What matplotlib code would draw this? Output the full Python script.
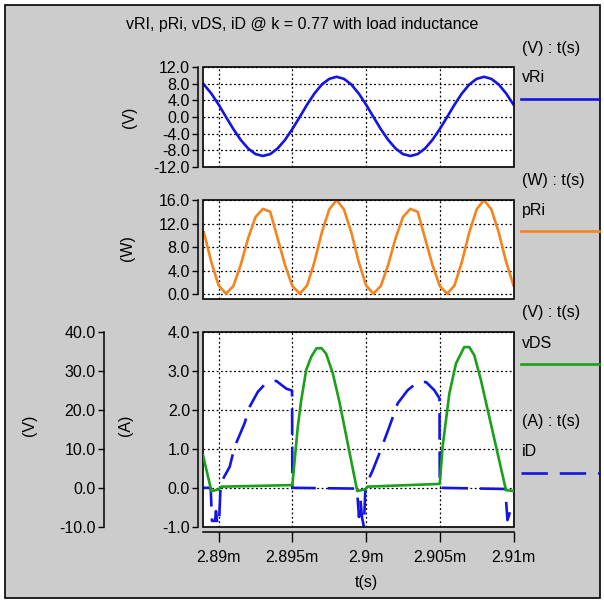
import numpy as np
import matplotlib
matplotlib.use("Agg")
import matplotlib.pyplot as plt
from matplotlib.lines import Line2D
from matplotlib.patches import Rectangle

plt.rcParams['font.family'] = ['Liberation Sans', 'DejaVu Sans']
FS = 11.5

# time in ms (labels get an "m" suffix)
t_lim = (2.88894, 2.910)
x_ticks = [2.89, 2.895, 2.9, 2.905, 2.91]

# vRi and pRi sampled every 0.5 us
t_s = np.linspace(2.889, 2.910, 43)
vri = [7.8, 5.65, 2.97, 0.0, -2.9, -5.5, -7.55, -8.9, -9.35, -8.9, -7.55, -5.5, -2.9,
       0.0, 2.97, 5.65, 7.8, 9.15, 9.65, 9.15, 7.8, 5.65, 2.97,
       0.0, -2.9, -5.5, -7.55, -8.9, -9.35, -8.9, -7.55, -5.5, -2.9,
       0.0, 2.97, 5.65, 7.8, 9.15, 9.65, 9.15, 7.8, 5.65, 2.97]
pri = [10.5, 5.5, 1.5, 0.1, 1.4, 5.0, 9.5, 13.1, 14.5, 14.0, 9.5, 5.0, 1.4,
       0.1, 1.5, 5.5, 10.5, 14.4, 16.0, 14.4, 10.5, 5.5, 1.5,
       0.1, 1.4, 5.0, 9.5, 13.1, 14.5, 14.0, 9.5, 5.0, 1.4,
       0.1, 1.5, 5.5, 10.5, 14.4, 16.0, 14.4, 10.5, 5.5, 1.5]

# vDS (V)
t_vds = [2.88894, 2.88951, 2.89002, 2.89018, 2.89500, 2.89537, 2.89560, 2.89594,
         2.89628, 2.89664, 2.89698, 2.89729, 2.89774, 2.89820, 2.89940,
         2.89996, 2.90009, 2.90500, 2.90519, 2.90565, 2.90610, 2.90666, 2.90700,
         2.90734, 2.90779, 2.90949, 2.91000]
vds = [8.4, -0.85, -0.4, 0.3, 0.7, 15.7, 22.5, 30.3,
       33.7, 35.9, 35.9, 34.5, 29.5, 22.0, -0.8,
       -0.4, 0.3, 1.0, 10.5, 24.3, 32.0, 36.2, 36.2,
       34.1, 27.7, -0.6, -0.8]

# iD (A)
t_id = [2.88894, 2.88939, 2.88946, 2.88955, 2.88976, 2.88982, 2.88991, 2.89002,
        2.89014, 2.89018, 2.89075, 2.89108, 2.89176, 2.89210, 2.89266, 2.89323,
        2.89391, 2.89459, 2.89498, 2.89500,
        2.89938, 2.89952, 2.89962, 2.89972, 2.89985, 2.89996, 2.90000,
        2.90045, 2.90090, 2.90158, 2.90214, 2.90282, 2.90350, 2.90407, 2.90463,
        2.90498, 2.90500, 2.90944, 2.90959, 2.90978, 2.91000]
i_d = [0.0, 0.0, 0.0, -0.85, -0.85, -0.6, -0.92, -0.95,
       0.1, 0.15, 0.54, 1.05, 1.66, 2.08, 2.47, 2.70,
       2.75, 2.55, 2.50, 0.0,
       -0.02, -0.75, -0.3, -0.75, -1.0, 0.05, 0.07,
       0.45, 0.88, 1.57, 2.17, 2.51, 2.72, 2.72, 2.51,
       2.30, 0.0, -0.03, -0.83, -0.6, -0.45]

BLUE = '#1414e6'
ORANGE = '#f5841f'
GREEN = '#1aa01a'
DASH = (0, (10, 4.5))

W, H = 604, 602
fig = plt.figure(figsize=(6.04, 6.02), dpi=100)
fig.patch.set_facecolor('white')


def fx(px):
    return px / W


def fy(py):
    return 1 - py / H


fig.add_artist(Rectangle((fx(5), fy(598)), fx(600) - fx(5), fy(5) - fy(598),
                         transform=fig.transFigure, facecolor='#cccccc',
                         edgecolor='black', lw=1.2, zorder=0))


def add_panel(left, top, right, bottom):
    return fig.add_axes([fx(left), fy(bottom), fx(right) - fx(left), fy(top) - fy(bottom)])


def style(ax, yticks, ylim, show_x=False):
    ax.set_xlim(t_lim)
    ax.set_ylim(ylim)
    ax.set_yticks(yticks)
    ax.set_yticklabels([f"{v:.1f}" for v in yticks])
    ax.set_xticks(x_ticks)
    ax.grid(True, color='black', linestyle=(0, (1.5, 2)), lw=0.9)
    ax.set_axisbelow(True)
    for s in ['top', 'right']:
        ax.spines[s].set_visible(False)
    ax.spines['left'].set_position(('outward', 3.6))
    ax.spines['left'].set_bounds(yticks[0], yticks[-1])
    ax.spines['left'].set_linewidth(1.1)
    ax.tick_params(axis='y', direction='out', length=4.3, width=1, labelsize=FS, pad=1.5)
    ax.add_patch(Rectangle((0, 0), 1, 1, transform=ax.transAxes, fill=False,
                           edgecolor='black', lw=1.2, zorder=5, clip_on=False))
    if show_x:
        ax.spines['bottom'].set_position(('outward', 3.6))
        ax.spines['bottom'].set_linewidth(1.1)
        ax.set_xticklabels([f"{v:g}m" for v in x_ticks])
        ax.tick_params(axis='x', direction='out', length=7.2, width=1, labelsize=FS, pad=6)
    else:
        ax.spines['bottom'].set_visible(False)
        ax.tick_params(axis='x', length=0, labelbottom=False)


# panel 1: vRi
ax1 = add_panel(203, 67, 513.5, 167)
ax1.plot(t_s, vri, color=BLUE, lw=1.9)
style(ax1, [-12, -8, -4, 0, 4, 8, 12], (-12, 12))

# panel 2: pRi
ax2 = add_panel(203, 200, 513.5, 299.3)
ax2.plot(t_s, pri, color=ORANGE, lw=1.9)
style(ax2, [0, 4, 8, 12, 16], (-0.85, 16))

# panel 3: iD (A) and vDS (V)
ax3 = add_panel(203, 332.3, 513.5, 526.7)
ax3.plot(t_id, i_d, color=BLUE, lw=1.9, linestyle=DASH)
style(ax3, [-1, 0, 1, 2, 3, 4], (-1, 4), show_x=True)

ax3v = ax3.twinx()
ax3v.plot(t_vds, vds, color=GREEN, lw=1.9)
ax3v.set_ylim(-10, 40)
v_ticks = [-10, 0, 10, 20, 30, 40]
ax3v.set_yticks(v_ticks)
ax3v.set_yticklabels([f"{v:.1f}" for v in v_ticks])
ax3v.yaxis.tick_left()
for s in ['top', 'right', 'bottom']:
    ax3v.spines[s].set_visible(False)
ax3v.spines['left'].set_visible(True)
ax3v.spines['left'].set_position(('outward', 71.5))
ax3v.spines['left'].set_bounds(-10, 40)
ax3v.spines['left'].set_linewidth(1.1)
ax3v.tick_params(axis='y', direction='out', length=4.3, width=1, labelsize=FS, pad=1.5)

# texts
fig.text(fx(302), fy(24), "vRI, pRi, vDS, iD @ k = 0.77 with load inductance",
         ha='center', va='center', fontsize=FS)
fig.text(fx(130), fy(117), "(V)", rotation=90, ha='center', va='center', fontsize=FS)
fig.text(fx(128), fy(248), "(W)", rotation=90, ha='center', va='center', fontsize=FS)
fig.text(fx(30), fy(425), "(V)", rotation=90, ha='center', va='center', fontsize=FS)
fig.text(fx(126), fy(425), "(A)", rotation=90, ha='center', va='center', fontsize=FS)
fig.text(fx(366), fy(582), "t(s)", ha='center', va='center', fontsize=FS)

# legend column
legend = [
    ("(V) : t(s)", 48, "vRi", 78, 99.3, BLUE, '-'),
    ("(W) : t(s)", 180, "pRi", 210, 231, ORANGE, '-'),
    ("(V) : t(s)", 313, "vDS", 343, 364, GREEN, '-'),
    ("(A) : t(s)", 421.7, "iD", 451.7, 473.3, BLUE, DASH),
]
for unit, uy, name, ny, ly, col, ls in legend:
    fig.text(fx(521.7), fy(uy), unit, ha='left', va='center', fontsize=FS)
    fig.text(fx(521.7), fy(ny), name, ha='left', va='center', fontsize=FS)
    fig.add_artist(Line2D([fx(521), fx(599)], [fy(ly), fy(ly)], transform=fig.transFigure,
                          color=col, lw=1.9, linestyle=ls))

fig.savefig("out.png", dpi=100, facecolor=fig.get_facecolor())
